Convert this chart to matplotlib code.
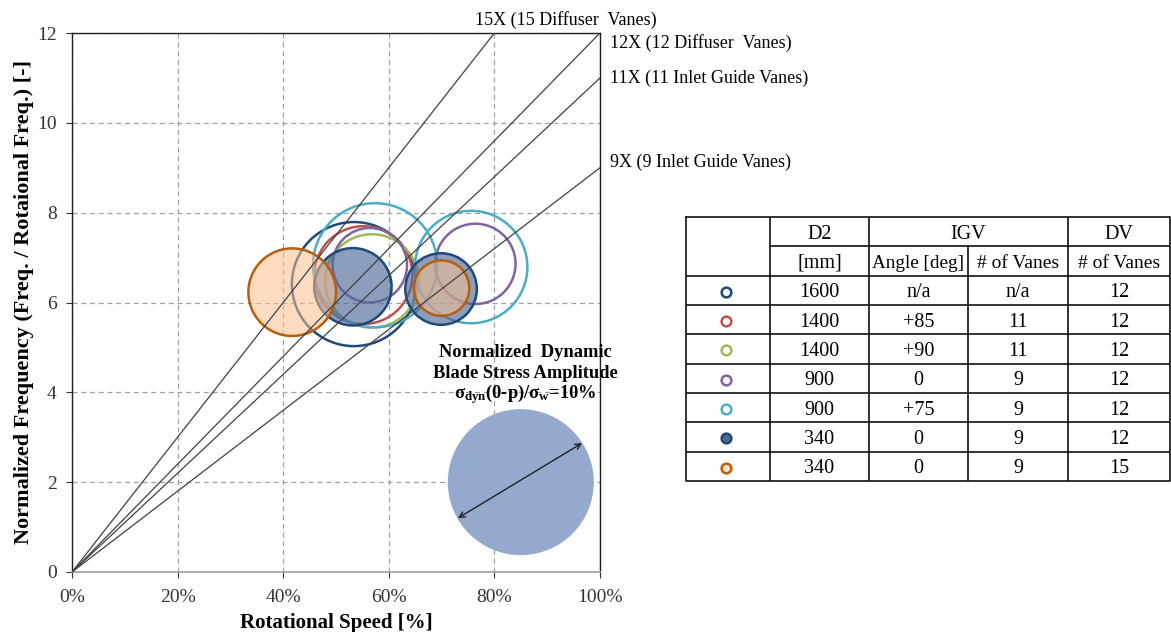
import numpy as np
import matplotlib
matplotlib.use('Agg')
import matplotlib.pyplot as plt

plt.rcParams['font.family'] = ['Liberation Serif', 'DejaVu Serif']
plt.rcParams['mathtext.fontset'] = 'custom'
plt.rcParams['mathtext.rm'] = 'Liberation Serif'
plt.rcParams['mathtext.bf'] = 'Liberation Serif:bold'
plt.rcParams['mathtext.it'] = 'Liberation Serif:italic'

# harmonic lines
orders = [15, 12, 11, 9]
order_labels = ['15X (15 Diffuser  Vanes)', '12X (12 Diffuser  Vanes)',
                '11X (11 Inlet Guide Vanes)', '9X (9 Inlet Guide Vanes)']

# bubble series: rotational speed [%], normalized frequency, stress amplitude [%]
navy_open_x = [53.4]
navy_open_y = [6.41]
navy_open_a = [8.5]

red_x = [55.2]
red_y = [6.61]
red_a = [6.7]

green_x = [56.8]
green_y = [6.48]
green_a = [6.4]

purple_x = [56.4, 76.4]
purple_y = [6.83, 6.86]
purple_a = [5.1, 5.5]

cyan_x = [57.4, 75.6]
cyan_y = [6.83, 6.79]
cyan_a = [8.5, 7.7]

navy_fill_x = [53.2, 69.9]
navy_fill_y = [6.35, 6.30]
navy_fill_a = [5.3, 4.9]

orange_x = [41.7, 70.0]
orange_y = [6.23, 6.32]
orange_a = [6.0, 3.8]

ref_x = [85.0]
ref_y = [2.0]
ref_a = [10.0]

# table content
tab_d2 = ['1600', '1400', '1400', '900', '900', '340', '340']
tab_angle = ['n/a', '+85', '+90', '0', '+75', '0', '0']
tab_igv = ['n/a', '11', '11', '9', '9', '9', '9']
tab_dv = ['12', '12', '12', '12', '12', '12', '15']

NAVY = '#1F497D'
RED = '#C0504D'
GREEN = '#9BBB59'
PURPLE = '#8064A2'
CYAN = '#4BACC6'
ORANGE = '#B5600F'

styles = [
    (navy_open_x, navy_open_y, navy_open_a, 'none', NAVY),
    (red_x, red_y, red_a, 'none', RED),
    (green_x, green_y, green_a, 'none', GREEN),
    (purple_x, purple_y, purple_a, 'none', PURPLE),
    (cyan_x, cyan_y, cyan_a, 'none', CYAN),
    (navy_fill_x, navy_fill_y, navy_fill_a, (0.31, 0.42, 0.60, 0.65), NAVY),
    (orange_x, orange_y, orange_a, (0.98, 0.75, 0.56, 0.55), ORANGE),
]

DPI = 100
PX_PER_AMP = 14.6  # bubble diameter in pixels per 1% amplitude


def size_of(a):
    d_pt = np.array(a) * PX_PER_AMP * 72.0 / DPI
    return d_pt ** 2


fig = plt.figure(figsize=(11.71, 6.32), dpi=DPI)
ax = fig.add_axes([72 / 1171, 60 / 632, 528 / 1171, 539 / 632])

ax.set_xlim(0, 100)
ax.set_ylim(0, 12)

xs = np.array([0, 100])
for k in orders:
    ax.plot(xs, k * xs / 100, color='#404040', lw=0.9, zorder=20)

ax.scatter(ref_x, ref_y, s=size_of(ref_a), facecolor='#95A9CF', edgecolor='none', zorder=1)
ax.annotate('', xy=(96.6, 2.87), xytext=(73.1, 1.2),
            arrowprops=dict(arrowstyle='<->', color='#202020', lw=1.0,
                            shrinkA=0, shrinkB=0), zorder=3)

for z, (x, y, a, fc, ec) in enumerate(styles):
    ax.scatter(x, y, s=size_of(a), facecolor=fc, edgecolor=ec, linewidths=1.8, zorder=4 + z)

# labels for the order lines
lab_pos = [(76.3, 12.29), (101.9, 11.78), (101.9, 11.0), (101.9, 9.13)]
for (lx, ly), t in zip(lab_pos, order_labels):
    ax.text(lx, ly, t, fontsize=13, va='center', ha='left', clip_on=False)

ax.text(85.8, 4.88, 'Normalized  Dynamic', fontsize=13.3, fontweight='bold', ha='center', va='center')
ax.text(85.8, 4.43, 'Blade Stress Amplitude', fontsize=13.3, fontweight='bold', ha='center', va='center')
ax.text(85.8, 3.96, r'$\mathbf{\sigma}_{\mathbf{dyn}}$(0-p)/$\mathbf{\sigma}_{\mathbf{w}}$=10%',
        fontsize=13.3, fontweight='bold', ha='center', va='center')

ax.set_xticks([0, 20, 40, 60, 80, 100])
ax.set_xticklabels(['0%', '20%', '40%', '60%', '80%', '100%'])
ax.set_yticks([0, 2, 4, 6, 8, 10, 12])
ax.tick_params(labelsize=14, colors='#333333', length=4, width=0.8)
ax.tick_params(axis='y', pad=7)
ax.tick_params(axis='x', pad=8)
ax.grid(True, ls=(0, (4, 3)), color='#A0A0A0', lw=0.9)
ax.set_axisbelow(True)
for s in ['top', 'right', 'left']:
    ax.spines[s].set_color('#202020')
    ax.spines[s].set_linewidth(1.0)
ax.spines['bottom'].set_color('#A0A0A0')
ax.spines['bottom'].set_linewidth(1.2)

ax.set_xlabel('Rotational Speed [%]', fontsize=15, fontweight='bold', labelpad=5)
ax.set_ylabel('Normalized Frequency (Freq. / Rotaional Freq.) [-]', fontsize=16,
              fontweight='bold', labelpad=2)

# table
tx = fig.add_axes([686 / 1171, (632 - 481) / 632, 484 / 1171, 264 / 632])
tx.set_xlim(0, 484)
tx.set_ylim(9, 0)
tx.axis('off')
lc = '#111111'
lw = 1.2
# outer border
tx.plot([0, 484, 484, 0, 0], [0, 0, 9, 9, 0], color=lc, lw=lw, clip_on=False)
# horizontal lines
tx.plot([84, 484], [1, 1], color=lc, lw=lw)
for r in range(2, 9):
    tx.plot([0, 484], [r, r], color=lc, lw=lw)
# vertical lines
for c in [84, 183, 382]:
    tx.plot([c, c], [0, 9], color=lc, lw=lw)
tx.plot([282, 282], [1, 9], color=lc, lw=lw)

fs = 14.5
dy = 0.08
tx.text(133.5, 0.5 + dy, 'D2', fontsize=fs, ha='center', va='center')
tx.text(282, 0.5 + dy, 'IGV', fontsize=fs, ha='center', va='center')
tx.text(433, 0.5 + dy, 'DV', fontsize=fs, ha='center', va='center')
tx.text(133.5, 1.5 + dy, '[mm]', fontsize=fs, ha='center', va='center')
tx.text(232.5, 1.5 + dy, 'Angle [deg]', fontsize=13.8, ha='center', va='center')
tx.text(332, 1.5 + dy, '# of Vanes', fontsize=14, ha='center', va='center')
tx.text(433, 1.5 + dy, '# of Vanes', fontsize=14, ha='center', va='center')

for i, (_, _, _, fc, ec) in enumerate(styles):
    r = 2.5 + i
    mfc = 'white' if fc == 'none' else fc
    if i == 5:
        mfc = (0.31, 0.42, 0.60, 1.0)
    if i == 6:
        mfc = (0.99, 0.87, 0.78, 1.0)
    tx.plot([40], [r + 0.05], marker='o', ms=7, mfc=mfc, mec=ec, mew=1.8)
    tx.text(133.5, r + dy, tab_d2[i], fontsize=fs, ha='center', va='center')
    tx.text(232.5, r + dy, tab_angle[i], fontsize=fs, ha='center', va='center')
    tx.text(332, r + dy, tab_igv[i], fontsize=fs, ha='center', va='center')
    tx.text(433, r + dy, tab_dv[i], fontsize=fs, ha='center', va='center')

fig.savefig('out.png', dpi=DPI)
